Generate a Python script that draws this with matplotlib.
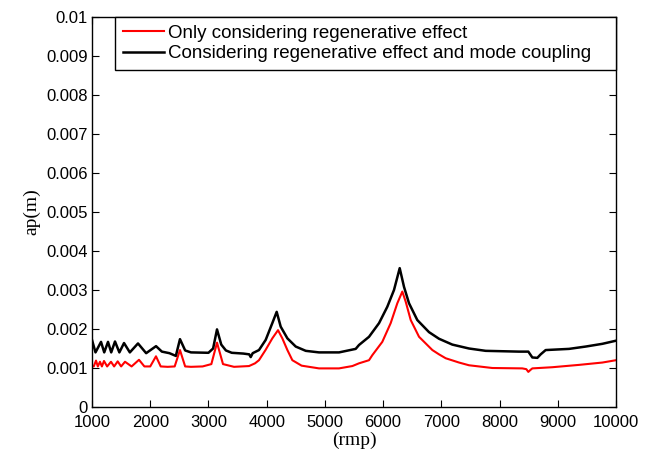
import matplotlib
matplotlib.use("Agg")
import matplotlib.pyplot as plt
from matplotlib.ticker import FixedLocator, FixedFormatter

# ---- data ----
rpm_red = [1000, 1030, 1069, 1100, 1137, 1170, 1206, 1260, 1326, 1380, 1441, 1500, 1567,
           1680, 1807, 1900, 2000, 2099, 2180, 2300, 2420, 2511, 2600, 2700, 2900, 3050,
           3147, 3250, 3439, 3697, 3800, 3868, 3980, 4097, 4195, 4269, 4356, 4441, 4600,
           4899, 5243, 5472, 5586, 5758, 5815, 5986, 6130, 6244, 6330, 6388, 6474, 6617,
           6846, 6960, 7075, 7304, 7475, 7876, 8391, 8460, 8494, 8530, 8563, 8907, 9365,
           9766, 10000]
ap_red = [0.00105, 0.00104, 0.00119, 0.00104, 0.00116, 0.00104, 0.00118, 0.00104, 0.00116,
          0.00104, 0.00117, 0.00104, 0.00116, 0.00104, 0.00121, 0.00104, 0.00104, 0.00130,
          0.00104, 0.00103, 0.00104, 0.00146, 0.00104, 0.00103, 0.00104, 0.00110,
          0.00165, 0.00110, 0.00103, 0.00105, 0.00112, 0.00120, 0.00146, 0.00176, 0.00197,
          0.00176, 0.00146, 0.00120, 0.00106, 0.00099, 0.00099, 0.00105, 0.00112, 0.00120,
          0.00133, 0.00167, 0.00215, 0.00266, 0.00296, 0.00270, 0.00223, 0.00180, 0.00146,
          0.00135, 0.00125, 0.00114, 0.00107, 0.00100, 0.00099, 0.00097, 0.00090, 0.00095,
          0.00099, 0.00102, 0.00108, 0.00114, 0.00120]

rpm_blk = [1000, 1060, 1155, 1210, 1275, 1330, 1395, 1470, 1550, 1650, 1790, 1930, 2100,
           2200, 2330, 2440, 2511, 2600, 2700, 3000, 3080, 3147, 3220, 3300, 3400, 3600,
           3700, 3726, 3760, 3868, 3983, 4097, 4172, 4241, 4356, 4499, 4671, 4899, 5243,
           5529, 5586, 5758, 5930, 6072, 6187, 6285, 6359, 6445, 6587, 6788, 6960, 7189,
           7475, 7762, 8334, 8494, 8563, 8649, 8706, 8792, 9193, 9480, 9766, 10000]
ap_blk = [0.00172, 0.00140, 0.00167, 0.00140, 0.00167, 0.00140, 0.00168, 0.00140, 0.00164,
          0.00140, 0.00163, 0.00138, 0.00156, 0.00142, 0.00138, 0.00131, 0.00174, 0.00145,
          0.00140, 0.00139, 0.00150, 0.00199, 0.00160, 0.00145, 0.00139, 0.00137,
          0.00135, 0.00128, 0.00138, 0.00146, 0.00172, 0.00215, 0.00244, 0.00206, 0.00176,
          0.00155, 0.00144, 0.00140, 0.00140, 0.00149, 0.00159, 0.00180, 0.00215, 0.00257,
          0.00300, 0.00356, 0.00308, 0.00266, 0.00223, 0.00192, 0.00175, 0.00160,
          0.00150, 0.00144, 0.00142, 0.00142, 0.00127, 0.00126, 0.00135, 0.00146,
          0.00149, 0.00155, 0.00162, 0.00170]

x_ticks = [1000, 2000, 3000, 4000, 5000, 6000, 7000, 8000, 9000, 10000]
y_ticks = [0, 0.001, 0.002, 0.003, 0.004, 0.005, 0.006, 0.007, 0.008, 0.009, 0.01]
y_tick_labels = ["0", "0.001", "0.002", "0.003", "0.004", "0.005", "0.006", "0.007",
                 "0.008", "0.009", "0.01"]
labels = ["Only considering regenerative effect",
          "Considering regenerative effect and mode coupling"]

fig = plt.figure(figsize=(6.54, 4.59), dpi=100)
ax = fig.add_axes([92/654, 52/459, 524/654, 390/459])

ax.plot(rpm_red, ap_red, color="#ff0000", lw=1.5, label=labels[0])
ax.plot(rpm_blk, ap_blk, color="black", lw=1.8, label=labels[1])

ax.set_xlim(1000, 10000)
ax.set_ylim(0, 0.01)
ax.xaxis.set_major_locator(FixedLocator(x_ticks))
ax.yaxis.set_major_locator(FixedLocator(y_ticks))
ax.yaxis.set_major_formatter(FixedFormatter(y_tick_labels))
ax.tick_params(direction="in", length=5, width=0.8, top=True, right=True,
               labelsize=12, pad=3)
ax.tick_params(axis="x", pad=6)
for lab in ax.get_xticklabels() + ax.get_yticklabels():
    lab.set_fontfamily("Liberation Sans")
for sp in ax.spines.values():
    sp.set_linewidth(1.0)

ax.set_xlabel("(rmp)", fontfamily="Liberation Serif", fontsize=14, labelpad=1)
ax.set_ylabel("ap(m)", fontfamily="Liberation Serif", fontsize=14, labelpad=4)

leg_x0 = (115 - 92) / 524
leg = ax.legend(loc="upper left", bbox_to_anchor=(leg_x0, 0.0, 1.0 - leg_x0, 1.0),
                mode="expand", borderaxespad=0,
                fancybox=False, edgecolor="black", framealpha=1,
                prop={"family": "Liberation Sans", "size": 13.5},
                handlelength=2.2, handletextpad=0.25, labelspacing=0.2,
                borderpad=0.4)
leg.get_frame().set_linewidth(1.0)

fig.savefig("out.png", dpi=100)
